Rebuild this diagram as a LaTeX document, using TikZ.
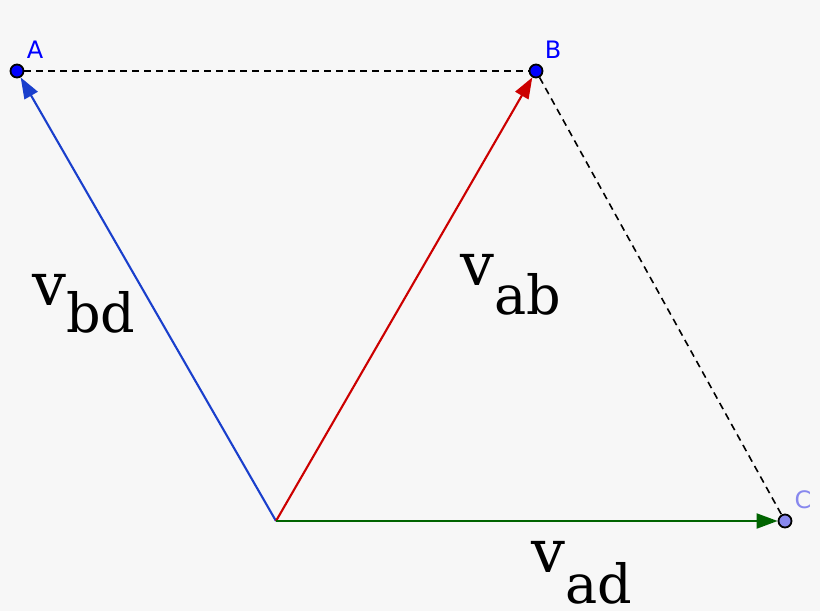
\documentclass[tikz,border=0pt]{standalone}
\usepackage{fontspec}
\setmainfont{DejaVu Serif}
\newfontfamily\ptfont{DejaVu Sans}
\usetikzlibrary{arrows.meta}
\definecolor{bgcol}{HTML}{F7F7F7}
\definecolor{vblue}{HTML}{1A3FCC}
\definecolor{vred}{HTML}{CC0000}
\definecolor{vgreen}{HTML}{006400}
\definecolor{ptblue}{HTML}{0000FF}
\definecolor{ptlight}{HTML}{8888EE}

\begin{document}
\begin{tikzpicture}[x=1pt,y=-1pt,>={Triangle[length=21pt,width=15pt]},
  point/.style={circle,draw=black,line width=1.8pt,inner sep=0pt,minimum size=13pt},
  vec/.style={->,line width=2.1pt},
  help line/.style={dashed,line width=1.6pt,dash pattern=on 7pt off 5pt},
  pt label/.style={font=\ptfont\fontsize{24}{28}\selectfont},
  vec label/.style={anchor=base west,inner sep=0pt,font=\fontsize{60}{64}\selectfont}]

  \fill[bgcol] (0,0) rectangle (820,611);

  \coordinate (O) at (276,521);
  \node[point,fill=ptblue] (A) at (17,71) {};
  \node[point,fill=ptblue] (B) at (536,71) {};
  \node[point,fill=ptlight] (C) at (785,521) {};
  \node[pt label,text=ptblue] (lA) at (35,50) {A};
  \node[pt label,text=ptblue] (lB) at (553,50) {B};
  \node[pt label,text=ptlight] (lC) at (803,500) {C};

  \node[vec label] (vbd) at (32,305) {v\raisebox{-27pt}[0pt][0pt]{\fontsize{54}{58}\selectfont bd}};
  \node[vec label] (vab) at (460,285) {v\raisebox{-29pt}[0pt][0pt]{\fontsize{54}{58}\selectfont ab}};
  \node[vec label] (vad) at (531,572) {v\raisebox{-31pt}[0pt][0pt]{\fontsize{54}{58}\selectfont ad}};

  \path
    (O) edge[vec,vblue] (A)
    (O) edge[vec,vred] (B)
    (O) edge[vec,vgreen] (C)
    (A) edge[help line] (B)
    (B) edge[help line] (C);

\end{tikzpicture}
\end{document}
